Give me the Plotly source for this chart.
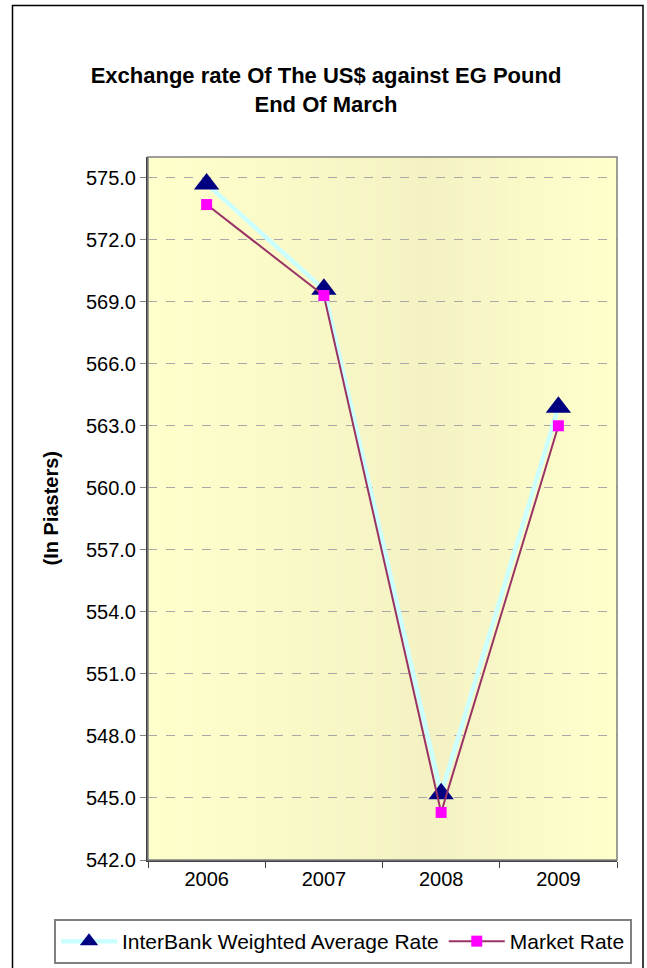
import plotly.graph_objects as go

# Exchange rate data (piasters per US$, end of March)
years = ["2006", "2007", "2008", "2009"]
interbank_rate = [574.7, 569.6, 545.2, 563.9]
market_rate = [573.7, 569.3, 544.3, 563.0]
y_ticks = [542 + 3 * i for i in range(12)]

W, H = 647, 968
L, R, T, B = 148, 617, 157, 860
pw, ph = R - L, B - T


def px_x(x):
    return (x - L) / pw


def px_y(y):
    return (B - y) / ph


fig = go.Figure()

fig.add_trace(go.Scatter(
    x=years, y=interbank_rate, name="InterBank Weighted Average Rate",
    mode="lines+markers",
    line=dict(color="#CCFFFF", width=4.5),
    marker=dict(symbol="triangle-up", size=22, color="#000080"),
))
fig.add_trace(go.Scatter(
    x=years, y=market_rate, name="Market Rate",
    mode="lines+markers",
    line=dict(color="#993366", width=2),
    marker=dict(symbol="square", size=11, color="#FF00FF"),
))

# Horizontal gradient fill of the plot area (pale at the edges, deeper near 60%)
shapes = []
n = 120
c_edge = (255, 255, 204)
c_mid = (244, 242, 195)
peak = 0.6
for i in range(n):
    x0, x1 = i / n, (i + 1) / n
    xc = (x0 + x1) / 2
    t = xc / peak if xc <= peak else (1 - xc) / (1 - peak)
    col = tuple(round(c_edge[k] + (c_mid[k] - c_edge[k]) * t) for k in range(3))
    shapes.append(dict(type="rect", xref="paper", yref="paper", x0=x0, x1=x1 + 0.002,
                       y0=0, y1=1, fillcolor="rgb(%d,%d,%d)" % col, line=dict(width=0),
                       layer="below"))

# Plot-area frame
shapes.append(dict(type="rect", xref="paper", yref="paper", x0=0, x1=1, y0=0, y1=1,
                   line=dict(color="#808080", width=1.5), fillcolor="rgba(0,0,0,0)"))
# Outer chart border
shapes.append(dict(type="rect", xref="paper", yref="paper",
                   x0=px_x(12.5), x1=px_x(643), y0=px_y(990), y1=px_y(5.5),
                   line=dict(color="#000000", width=1.5), fillcolor="rgba(0,0,0,0)"))

fig.update_layout(
    width=W, height=H,
    margin=dict(l=L, r=W - R, t=T, b=H - B, autoexpand=False),
    paper_bgcolor="white",
    plot_bgcolor="#FFFFCC",
    font=dict(family="Liberation Sans, Arial, sans-serif", size=21, color="#000000"),
    title=dict(
        text="<b>Exchange rate Of The US$ against EG Pound<br>End Of March</b>",
        x=326 / W, xanchor="center", xref="container",
        y=1 - 83 / H, yanchor="middle", yref="container",
        font=dict(size=22),
    ),
    shapes=shapes,
    showlegend=True,
    legend=dict(
        orientation="h",
        x=px_x(54), xanchor="left",
        y=px_y(919), yanchor="top",
        bordercolor="#808080", borderwidth=2,
        bgcolor="white",
        font=dict(size=21),
        itemwidth=56,
    ),
    annotations=[dict(
        text="<b>(In Piasters)</b>", textangle=-90,
        xref="paper", yref="paper", x=px_x(50), y=0.5,
        xanchor="center", yanchor="middle", showarrow=False,
        font=dict(size=20),
    )],
)

fig.update_xaxes(
    type="category", range=[-0.5, 3.5],
    tickson="boundaries", ticks="outside", ticklen=6, tickcolor="#404040",
    showline=True, linecolor="#404040", linewidth=2,
    showgrid=False, zeroline=False,
    tickfont=dict(size=20),
)
fig.update_yaxes(
    range=[542, 576], tickvals=y_ticks, ticktext=["%.1f" % v for v in y_ticks],
    ticks="outside", ticklen=6, tickcolor="#808080",
    showline=True, linecolor="#404040", linewidth=2,
    showgrid=True, gridcolor="#A8A8A8", griddash="dash", gridwidth=1,
    zeroline=False,
    tickfont=dict(size=20),
)

fig.write_html("out.html")
